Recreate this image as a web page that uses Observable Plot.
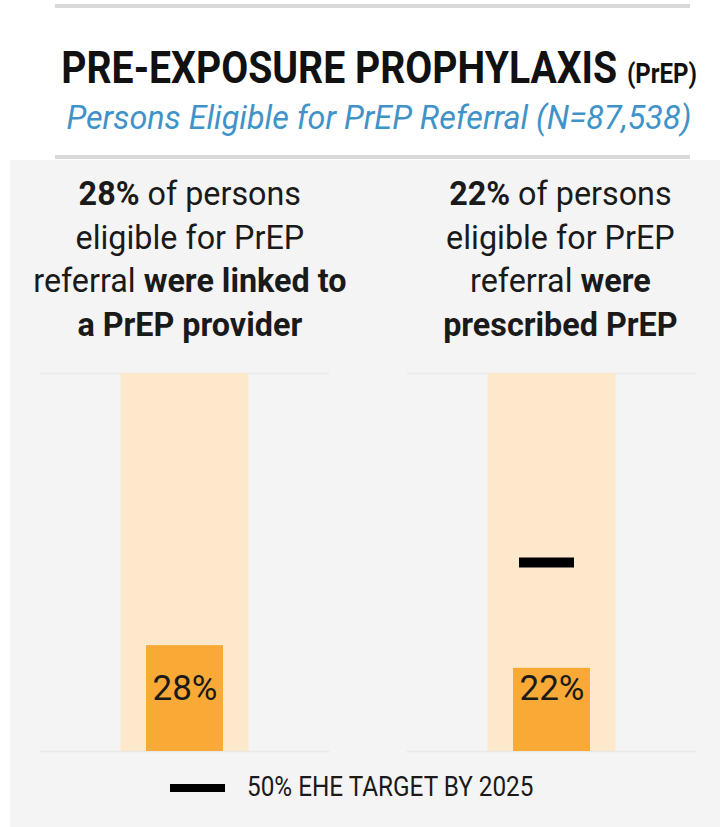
<!DOCTYPE html>
<html>
<head>
<meta charset="utf-8">
<script src="https://cdn.jsdelivr.net/npm/d3@7"></script>
<script src="https://cdn.jsdelivr.net/npm/@observablehq/plot@0.6"></script>
<style>
  html, body { margin: 0; padding: 0; background: #ffffff; }
  body { width: 720px; height: 827px; position: relative; overflow: hidden;
         font-family: Roboto, sans-serif; color: #1a1a1a; }
  .cond { display: inline-block; transform-origin: center; white-space: nowrap; }
  .rule { position: absolute; height: 4px; background: #d9d9d9; }
  #panel { position: absolute; left: 10px; top: 160px; width: 710px; height: 667px; background: #f4f4f4; }
  #title { position: absolute; left: 0; width: 758px; top: 43px; text-align: center; font-weight: 700; font-size: 44px; line-height: 50px; color: #111; }
  #title .cond { transform: scaleX(0.89); }
  #title small { font-size: 27px; }
  #subtitle { position: absolute; left: 0; width: 758px; top: 97px; text-align: center; font-style: italic; font-size: 34px; line-height: 40px; color: #3f93c8; }
  #subtitle .cond { transform: scaleX(0.95); }
  .head { position: absolute; top: 172px; width: 360px; text-align: center; font-size: 34px; line-height: 43.5px; color: #1a1a1a; }
  .head .cond { transform: scaleX(0.95); }
  .head b { font-weight: 700; }
  #chart { position: absolute; left: 0; top: 360px; }
  #legend { position: absolute; left: 0; top: 770px; width: 720px; height: 34px; }
  #legend .sw { position: absolute; left: 170px; top: 14px; width: 55px; height: 8px; background: #000; }
  #legend .lab { position: absolute; left: 247px; top: 0px; width: 320px; font-size: 27px; line-height: 34px; color: #1a1a1a; }
  #legend .lab .cond { transform: scaleX(0.9); transform-origin: left center; }
</style>
</head>
<body>
<div id="panel"></div>
<div class="rule" style="left:55px; top:4px; width:635px;"></div>
<div class="rule" style="left:55px; top:155px; width:635px;"></div>
<div id="title"><span class="cond">PRE-EXPOSURE PROPHYLAXIS <small>(PrEP)</small></span></div>
<div id="subtitle"><span class="cond">Persons Eligible for PrEP Referral (N=87,538)</span></div>
<div class="head" style="left:10px;"><span class="cond"><b>28%</b> of persons<br>eligible for PrEP<br>referral <b>were linked to</b><br><b>a PrEP provider</b></span></div>
<div class="head" style="left:380px;"><span class="cond"><b>22%</b> of persons<br>eligible for PrEP<br>referral <b>were</b><br><b>prescribed PrEP</b></span></div>
<div id="chart"></div>
<div id="legend"><div class="sw"></div><div class="lab"><span class="cond">50% EHE TARGET BY 2025</span></div></div>
<script>
// Data
const categories = ["Linked to PrEP provider", "Prescribed PrEP"];
const percentValues = [28, 22];
const targetValues = [null, 50];
const maxValue = 100;
const labelTexts = ["28%", "22%"];

const rows = categories.map((c, i) => ({ cat: categories[i], value: percentValues[i], max: maxValue, target: targetValues[i], label: labelTexts[i] }));
const targetRows = rows.filter(d => d.target != null);

const chart = Plot.plot({
  width: 720,
  height: 401,
  marginTop: 13,
  marginBottom: 10,
  marginLeft: 40,
  marginRight: 23,
  style: { background: "transparent", fontFamily: "Roboto, sans-serif" },
  fx: { domain: categories, paddingInner: 0.212, paddingOuter: 0, axis: null },
  x: { domain: ["all"], padding: 0, axis: null },
  y: { domain: [0, 100], axis: null },
  marks: [
    Plot.ruleY([0, 100], { stroke: "#e8e8e8", strokeWidth: 1.5 }),
    Plot.barY(rows, { fx: "cat", x: () => "all", y: "max", fill: "#fde8cb", insetLeft: 80.5, insetRight: 80.5 }),
    Plot.barY(rows, { fx: "cat", x: () => "all", y: "value", fill: "#f9a935", insetLeft: 106, insetRight: 106 }),
    Plot.tickY(targetRows, { fx: "cat", x: () => "all", y: "target", stroke: "#000", strokeWidth: 10, insetLeft: 112, insetRight: 122 }),
    Plot.text(rows, { fx: "cat", x: () => "all", text: "label", frameAnchor: "bottom", dy: -52, fontSize: 35, fill: "#1a1a1a" })
  ]
});
document.getElementById("chart").appendChild(chart);
</script>
</body>
</html>
